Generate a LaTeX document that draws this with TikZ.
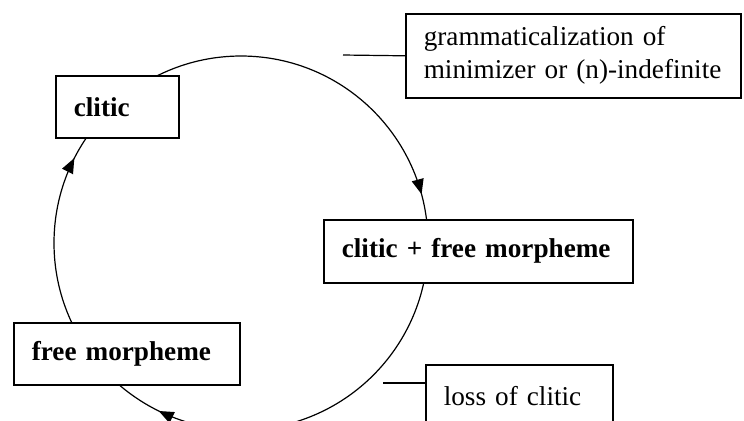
\documentclass[tikz,border=0pt]{standalone}
\usepackage{fontspec}
\setmainfont{Liberation Serif}
\usetikzlibrary{arrows.meta,decorations.markings}

\tikzset{
  stage/.style={draw, line width=0.8pt, fill=white, anchor=north west,
    align=left, inner xsep=9pt, inner ysep=0pt,
    font=\fontsize{13.6}{16.5}\selectfont\bfseries},
  change/.style={stage, font=\fontsize{13.6}{16.5}\selectfont},
  >={Triangle[length=7.5pt,width=6pt]},
}

\begin{document}
\begin{tikzpicture}[x=0.5pt,y=-0.5pt]
  \useasboundingbox (0,0) rectangle (744,420);

  % the cycle
  \coordinate (cyc) at (241,243);
  \draw[line width=0.6pt, postaction={decorate},
    decoration={markings,
      mark=at position 0.3225 with {\arrow{>}},
      mark=at position 0.575 with {\arrow{>}},
      mark=at position 0.958 with {\arrow{>}}}]
    (cyc) ++(187,0) arc[start angle=0, end angle=360, radius=187];

  % stages
  \node[stage, text width=43.5pt, minimum height=31pt] (clitic) at (55,75) {clitic};
  \node[stage, text width=136.5pt, minimum height=31.5pt] (cliticfree) at (323,219) {\mbox{clitic + free morpheme}};
  \node[stage, text width=95pt, minimum height=31pt] (free) at (13,322) {\mbox{free morpheme}};

  % changes
  \node[change, text width=149.5pt, minimum height=42pt] (gram) at (405,13)
    {\mbox{grammaticalization of}\\\mbox{minimizer or (n)-indefinite}};
  \node[change, text width=75.5pt, minimum height=31pt] (loss) at (425,364) {\mbox{loss of clitic}};

  \coordinate (gramtick) at (343,55);
  \coordinate (losstick) at (383,383);
  \draw[line width=0.6pt] (gramtick) -- (gram.west);
  \draw[line width=0.6pt] (losstick) -- (losstick -| loss.west);
\end{tikzpicture}
\end{document}
